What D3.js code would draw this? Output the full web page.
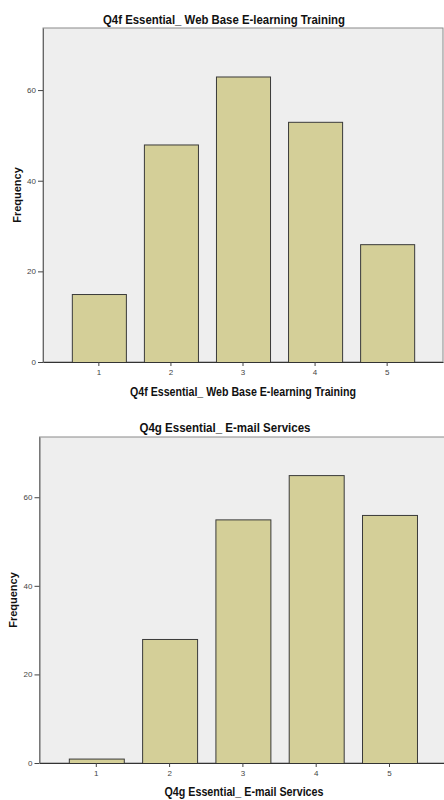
<!DOCTYPE html>
<html><head><meta charset="utf-8">
<script src="https://cdn.jsdelivr.net/npm/d3@7"></script>
<style>body{margin:0;background:#fff}svg{display:block}</style>
</head><body>
<svg id="c" width="444" height="800"></svg>
<script>
const categories = ["1","2","3","4","5"];
const valuesQ4f = [15, 48, 63, 53, 26];
const valuesQ4g = [1, 28, 55, 65, 56];
const yTicks = [0, 20, 40, 60];
const titleQ4f = "Q4f Essential_ Web Base E-learning Training";
const titleQ4g = "Q4g Essential_ E-mail Services";
const yLabel = "Frequency";

const svg = d3.select("#c");
const font = "'Liberation Sans', Arial, sans-serif";

function drawChart(o) {
  const g = svg.append("g");
  const x = d3.scaleBand().domain(categories).range([o.left, o.right]).paddingInner(0.25).paddingOuter(0.4);
  const y = d3.scaleLinear().domain([0, o.ymax]).range([o.bottom, o.top]);
  // plot background
  g.append("rect").attr("x", o.left).attr("y", o.top).attr("width", o.right - o.left).attr("height", o.bottom - o.top)
    .attr("fill", "#eeeeee").attr("stroke", "#8a8a8a").attr("stroke-width", 1);
  // bars
  g.selectAll("rect.bar").data(o.values).join("rect").attr("class", "bar")
    .attr("x", (d, i) => x(categories[i]) + 0.5)
    .attr("y", d => y(d) + 0.5)
    .attr("width", x.bandwidth())
    .attr("height", d => o.bottom - y(d))
    .attr("fill", "#d4cf98").attr("stroke", "#3a3a3a").attr("stroke-width", 1);
  // y axis
  const ya = g.append("g").attr("transform", `translate(${o.left},0)`)
    .call(d3.axisLeft(y).tickValues(yTicks).tickSize(5).tickSizeOuter(0).tickPadding(2));
  ya.select(".domain").attr("stroke", "#666");
  ya.selectAll(".tick line").attr("stroke", "#444");
  ya.selectAll(".tick text").attr("font-family", font).attr("font-size", 8).attr("fill", "#444");
  // x axis
  const xa = g.append("g").attr("transform", `translate(0,${o.bottom})`)
    .call(d3.axisBottom(x).tickSize(4).tickSizeOuter(0).tickPadding(3));
  xa.select(".domain").attr("stroke", "#333");
  xa.selectAll(".tick line").attr("stroke", "#444");
  xa.selectAll(".tick text").attr("font-family", font).attr("font-size", 8).attr("fill", "#444");
  // title
  g.append("text").attr("x", o.titleX).attr("y", o.titleY).attr("text-anchor", "middle")
    .attr("font-family", font).attr("font-weight", "bold").attr("font-size", 12).attr("fill", "#111")
    .attr("textLength", o.titleW).attr("lengthAdjust", "spacingAndGlyphs").text(o.title);
  // x label
  g.append("text").attr("x", o.xlabX).attr("y", o.xlabY).attr("text-anchor", "middle")
    .attr("font-family", font).attr("font-weight", "bold").attr("font-size", 12).attr("fill", "#111")
    .attr("textLength", o.xlabW).attr("lengthAdjust", "spacingAndGlyphs").text(o.title);
  // y label
  g.append("text").attr("transform", `translate(${o.ylabX},${o.ylabY}) rotate(-90)`).attr("text-anchor", "middle")
    .attr("font-family", font).attr("font-weight", "bold").attr("font-size", 11).attr("fill", "#111")
    .text(yLabel);
}

drawChart({values: valuesQ4f, title: titleQ4f, left: 43, right: 443, top: 28, bottom: 362, ymax: 73.7,
  titleX: 224, titleY: 24, titleW: 242, xlabX: 243, xlabY: 396, xlabW: 226, ylabX: 21, ylabY: 195});
drawChart({values: valuesQ4g, title: titleQ4g, left: 39.5, right: 446.3, top: 437, bottom: 763, ymax: 73.6,
  titleX: 225, titleY: 432, titleW: 171, xlabX: 244, xlabY: 796, xlabW: 159, ylabX: 17, ylabY: 600});
</script>
</body></html>
